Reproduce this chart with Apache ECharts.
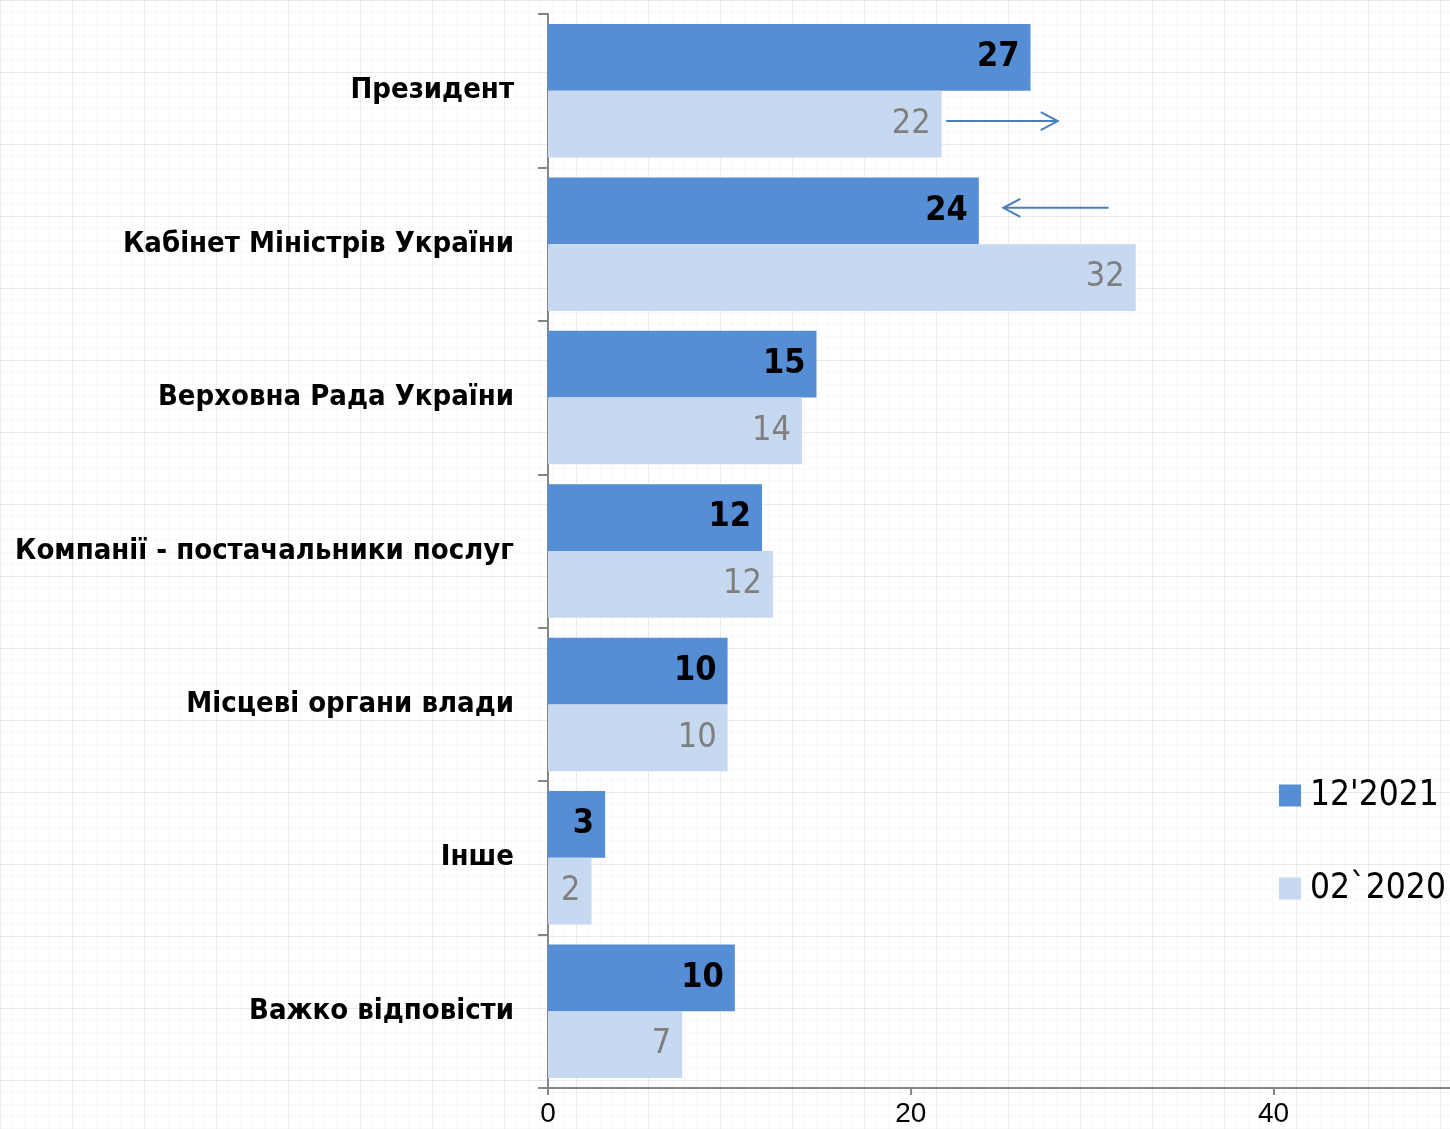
<!DOCTYPE html>
<html>
<head>
<meta charset="utf-8">
<script src="https://cdn.jsdelivr.net/npm/echarts@6/dist/echarts.min.js"></script>
<style>
html,body{margin:0;padding:0;width:1450px;height:1129px;overflow:hidden;background:#fff;}
body{
  background-color:#fff;
  background-image:
    linear-gradient(rgba(0,0,0,0.06) 1px, transparent 1px),
    linear-gradient(90deg, rgba(0,0,0,0.06) 1px, transparent 1px),
    linear-gradient(rgba(0,0,0,0.025) 1px, transparent 1px),
    linear-gradient(90deg, rgba(0,0,0,0.025) 1px, transparent 1px);
  background-size:72px 72px,72px 72px,12px 12px,12px 12px;
}
#chart{width:1450px;height:1129px;}
</style>
</head>
<body>
<div id="chart"></div>
<script>
const categories = ['Президент','Кабінет Міністрів України','Верховна Рада України','Компанії - постачальники послуг','Місцеві органи влади','Інше','Важко відповісти'];
const seriesNames = ["12'2021", "02`2020"];
const values2021 = [26.6, 23.75, 14.8, 11.8, 9.9, 3.15, 10.3];
const values2020 = [21.7, 32.4, 14.0, 12.4, 9.9, 2.4, 7.4];
const xTicks = [0, 20, 40];
// annotation arrows: [categoryIndex, seriesIndex, fromValue, toValue]
const arrows = [[0, 1, 21.95, 28.1], [1, 0, 30.9, 25.1]];

const chart = echarts.init(document.getElementById('chart'), null, {renderer:'canvas'});
const catFont = '"Liberation Sans Narrow","DejaVu Sans Condensed","Liberation Sans",sans-serif';
const option = {
  animation:false,
  grid:{left:548, top:14, width:907, height:1074, containLabel:false, outerBoundsMode:'none'},
  legend:{
    orient:'vertical', left:1274, top:773, itemWidth:22, itemHeight:22, itemGap:58, icon:'rect',
    textStyle:{fontSize:35, fontFamily:catFont, color:'#000', padding:[0,0,0,4]},
    data:seriesNames
  },
  xAxis:{
    type:'value', min:0, max:50, interval:20,
    axisLine:{show:true, lineStyle:{color:'#868686', width:2}},
    axisTick:{show:true, length:7, lineStyle:{color:'#868686', width:2}},
    splitLine:{show:false},
    axisLabel:{fontSize:28, color:'#000', margin:12, fontFamily:'"Liberation Sans",sans-serif',
      formatter:v => xTicks.includes(v) ? String(v) : ''}
  },
  yAxis:{
    type:'category', data:categories, inverse:true,
    axisLine:{show:true, lineStyle:{color:'#868686', width:2}},
    axisTick:{show:true, length:10, alignWithLabel:false, lineStyle:{color:'#868686', width:2}},
    axisLabel:{fontSize:29, fontWeight:'bold', color:'#000', margin:34, fontFamily:catFont}
  },
  series:[
    {name:seriesNames[0], type:'bar', data:values2021, barGap:'0%', barCategoryGap:'13%',
      itemStyle:{color:'#558ED5'},
      label:{show:true, position:'insideRight', offset:[-6,0], fontSize:34, fontWeight:'bold', color:'#000', fontFamily:catFont,
        formatter:p => Math.round(p.value)}},
    {name:seriesNames[1], type:'bar', data:values2020, barGap:'0%', barCategoryGap:'13%',
      itemStyle:{color:'#C6D9F1'},
      label:{show:true, position:'insideRight', offset:[-6,0], fontSize:34, color:'#7F7F7F', fontFamily:catFont,
        formatter:p => Math.round(p.value)}}
  ]
};
chart.setOption(option);

// draw annotation arrows using the chart's own scales
function drawArrows(){
  const g = [];
  const p0 = chart.convertToPixel({gridIndex:0}, [0, 0]);
  const p1 = chart.convertToPixel({gridIndex:0}, [0, 1]);
  const band = Math.abs(p1[1] - p0[1]);
  const barW = band * 0.87 / 2;
  arrows.forEach(([ci, si, from, to]) => {
    const a = chart.convertToPixel({gridIndex:0}, [from, ci]);
    const b = chart.convertToPixel({gridIndex:0}, [to, ci]);
    const y = a[1] + (si === 0 ? -barW/2 : barW/2) - 3;
    const dir = Math.sign(b[0] - a[0]);
    g.push({type:'line', shape:{x1:a[0], y1:y, x2:b[0], y2:y}, style:{stroke:'#4A7EBB', lineWidth:2}});
    g.push({type:'polyline', shape:{points:[[b[0]-dir*17, y-9],[b[0], y],[b[0]-dir*17, y+9]]}, style:{stroke:'#4A7EBB', lineWidth:2, fill:null}});
  });
  chart.setOption({graphic:{elements:g}});
}
drawArrows();
</script>
</body>
</html>
